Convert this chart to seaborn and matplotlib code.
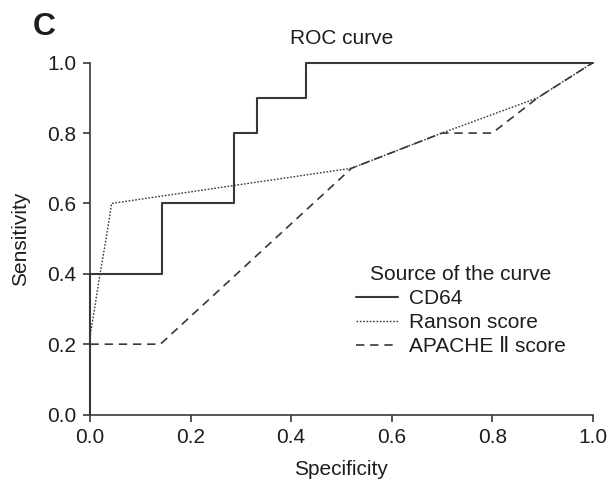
import numpy as np
import pandas as pd
import matplotlib
matplotlib.use("Agg")
import matplotlib.pyplot as plt
import seaborn as sns

sns.set_style("ticks")
plt.rcParams['font.family'] = ['Liberation Sans', 'DejaVu Sans']

# ROC curves
cd64_x = [0.0, 0.0, 0.143, 0.143, 0.286, 0.286, 0.333, 0.333, 0.429, 0.429, 1.0]
cd64_y = [0.0, 0.4, 0.4, 0.6, 0.6, 0.8, 0.8, 0.9, 0.9, 1.0, 1.0]

ranson_x = [0.0, 0.0, 0.01, 0.02, 0.032, 0.043, 0.52, 0.70, 0.89, 1.0]
ranson_y = [0.0, 0.22, 0.31, 0.40, 0.50, 0.60, 0.70, 0.80, 0.90, 1.0]

apache_x = [0.0, 0.0, 0.14, 0.52, 0.70, 0.80, 0.89, 1.0]
apache_y = [0.0, 0.2, 0.2, 0.7, 0.8, 0.8, 0.9, 1.0]

ticks = [0.0, 0.2, 0.4, 0.6, 0.8, 1.0]
COLOR = "#383838"
TEXT = "#1e1e1e"
FS = 15

fig = plt.figure(figsize=(6.11, 4.86), dpi=100)
ax = fig.add_axes([0.1473, 0.147, 0.823, 0.724])

sns.lineplot(x=cd64_x, y=cd64_y, sort=False, estimator=None, ax=ax,
             color=COLOR, lw=1.5, label="CD64", clip_on=False)
sns.lineplot(x=ranson_x, y=ranson_y, sort=False, estimator=None, ax=ax,
             color=COLOR, lw=1.0, linestyle=(0, (1.2, 1.2)), label="Ranson score", clip_on=False)
sns.lineplot(x=apache_x, y=apache_y, sort=False, estimator=None, ax=ax,
             color=COLOR, lw=1.2, linestyle=(0, (5, 3.5)), label="APACHE \u2161 score", clip_on=False)

ax.set_xlim(0, 1)
ax.set_ylim(0, 1)
ax.set_xticks(ticks)
ax.set_yticks(ticks)
ax.set_xticklabels([f"{t:.1f}" for t in ticks], fontsize=FS)
ax.set_yticklabels([f"{t:.1f}" for t in ticks], fontsize=FS)
ax.tick_params(length=5, width=1.2, color=COLOR, labelcolor=TEXT, pad=5)
sns.despine(ax=ax)
for s in ["left", "bottom"]:
    ax.spines[s].set_linewidth(1.2)
    ax.spines[s].set_color(COLOR)

ax.set_xlabel("Specificity", fontsize=FS, color=TEXT, labelpad=9)
ax.set_ylabel("Sensitivity", fontsize=FS, color=TEXT, labelpad=12)
ax.set_title("ROC curve", fontsize=FS, color=TEXT, pad=13.5)

leg = ax.legend(title="Source of the curve", loc="upper left",
                bbox_to_anchor=(356 / 611, 1 - 265 / 486), bbox_transform=fig.transFigure,
                frameon=False, fontsize=FS, title_fontsize=FS, handlelength=2.0,
                handletextpad=0.55, labelspacing=0.24, borderpad=0, borderaxespad=0)
plt.setp(leg.get_title(), color=TEXT)
for t in leg.get_texts():
    t.set_color(TEXT)

fig.text(0.054, 0.944, "C", ha="left", va="center", fontsize=23, fontweight="bold",
         color=TEXT)

fig.savefig("out.png", dpi=100)
